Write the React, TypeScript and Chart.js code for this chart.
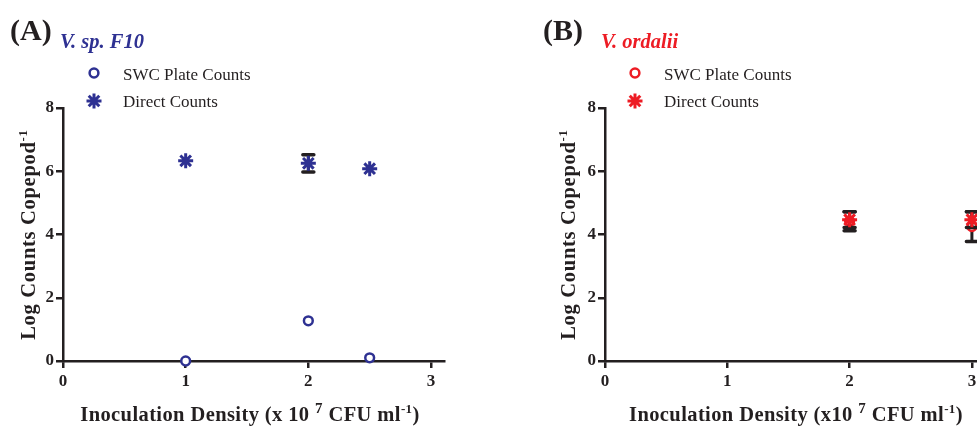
import React, { useEffect, useRef } from "react";
import { Chart, registerables } from "chart.js";

Chart.register(...registerables);

const BLUE = "#2E3192";
const RED = "#ED1C24";
const INK = "#231F20";
const SERIF = '"Liberation Serif", "Times New Roman", serif';

// axis ticks
const yTickValues = [0, 2, 4, 6, 8];
const xTickValues = [0, 1, 2, 3];
const legendLabels = ["SWC Plate Counts", "Direct Counts"];

// Panel A: V. sp. F10
const aDensity = [1, 2, 2.5];
const aPlate = [0, 1.27, 0.1];
const aPlateErr = [0, 0, 0];
const aDirect = [6.33, 6.25, 6.08];
const aDirectErr = [0, 0.27, 0];

// Panel B: V. ordalii
const bDensity = [2, 3];
const bPlate = [4.42, 4.25];
const bPlateErr = [0.3, 0.47];
const bDirect = [4.47, 4.47];
const bDirectErr = [0.25, 0.25];

type Part = { t: string; sup?: number };

type PanelCfg = {
  left: number;
  width: number;
  areaLeft: number;
  unit: number;
  xMax: number;
  label: string;
  labelX: number;
  species: string;
  speciesX: number;
  color: string;
  legendX: number;
  textX: number;
  yTitleX: number;
  xTitleX: number;
  xTitle: Part[];
  density: number[];
  plate: number[];
  plateErr: number[];
  direct: number[];
  directErr: number[];
};

const AREA_TOP = 108;
const AREA_BOTTOM = 361;
const H = 427;
const Y_W = 50;
const X_H = 30;
const TITLE_SIZE = 20.5;

function drawRich(
  ctx: CanvasRenderingContext2D,
  parts: Part[],
  cx: number,
  y: number,
  size: number,
  spacing: number
) {
  const font = (s: number) => `bold ${s}px ${SERIF}`;
  (ctx as any).letterSpacing = `${spacing}px`;
  let total = 0;
  const widths = parts.map((p) => {
    ctx.font = font(p.sup ? p.sup : size);
    const w = ctx.measureText(p.t).width;
    total += w;
    return w;
  });
  let x = cx - total / 2;
  ctx.textAlign = "left";
  ctx.textBaseline = "alphabetic";
  parts.forEach((p, i) => {
    ctx.font = font(p.sup ? p.sup : size);
    ctx.fillText(p.t, x, p.sup ? y - size * 0.38 : y);
    x += widths[i];
  });
  (ctx as any).letterSpacing = "0px";
}

function makePlugin(cfg: PanelCfg) {
  return {
    id: "decor",
    beforeDatasetDraw(chart: any, args: any) {
      const ds = chart.data.datasets[args.index];
      const errs: number[] = ds.errors;
      if (!errs) return;
      const ctx = chart.ctx;
      const xs = chart.scales.x;
      const ys = chart.scales.y;
      ctx.save();
      ctx.strokeStyle = INK;
      ds.data.forEach((p: any, i: number) => {
        const e = errs[i];
        if (!e) return;
        const px = xs.getPixelForValue(p.x);
        const t = ys.getPixelForValue(p.y + e);
        const b = ys.getPixelForValue(p.y - e);
        ctx.lineWidth = 3;
        ctx.beginPath();
        ctx.moveTo(px, t);
        ctx.lineTo(px, b);
        ctx.stroke();
        ctx.lineWidth = 3.5;
        ctx.lineCap = "round";
        ctx.beginPath();
        ctx.moveTo(px - 5.5, t);
        ctx.lineTo(px + 5.5, t);
        ctx.moveTo(px - 5.5, b);
        ctx.lineTo(px + 5.5, b);
        ctx.stroke();
        ctx.lineCap = "butt";
      });
      ctx.restore();
    },
    afterDraw(chart: any) {
      const ctx: CanvasRenderingContext2D = chart.ctx;
      const off = cfg.left;
      ctx.save();
      ctx.fillStyle = INK;
      // panel label
      ctx.font = `bold 30px ${SERIF}`;
      ctx.textAlign = "left";
      ctx.textBaseline = "alphabetic";
      ctx.fillText(cfg.label, cfg.labelX - off, 40);
      // species
      ctx.fillStyle = cfg.color;
      ctx.font = `italic bold 20.5px ${SERIF}`;
      ctx.fillText(cfg.species, cfg.speciesX - off, 48);
      // legend
      const lx = cfg.legendX - off;
      ctx.strokeStyle = cfg.color;
      ctx.fillStyle = "#ffffff";
      ctx.lineWidth = 2.5;
      ctx.beginPath();
      ctx.arc(lx, 73, 4.4, 0, Math.PI * 2);
      ctx.fill();
      ctx.stroke();
      ctx.lineWidth = 3;
      ctx.beginPath();
      const r = 7.5;
      for (let k = 0; k < 4; k++) {
        const a = (k * Math.PI) / 4;
        ctx.moveTo(lx - r * Math.cos(a), 101 - r * Math.sin(a));
        ctx.lineTo(lx + r * Math.cos(a), 101 + r * Math.sin(a));
      }
      ctx.stroke();
      ctx.fillStyle = INK;
      ctx.font = `17px ${SERIF}`;
      ctx.fillText(legendLabels[0], cfg.textX - off, 80);
      ctx.fillText(legendLabels[1], cfg.textX - off, 107);
      // x title
      ctx.fillStyle = INK;
      drawRich(ctx, cfg.xTitle, cfg.xTitleX - off, 421, TITLE_SIZE, 0.4);
      // y title
      ctx.translate(cfg.yTitleX - off, (AREA_TOP + AREA_BOTTOM) / 2);
      ctx.rotate(-Math.PI / 2);
      drawRich(ctx, [{ t: "Log Counts Copepod" }, { t: "-1", sup: 13 }], 0, 0, TITLE_SIZE, 0.7);
      ctx.restore();
    },
  };
}

function Panel({ cfg }: { cfg: PanelCfg }) {
  const ref = useRef<HTMLCanvasElement>(null);
  useEffect(() => {
    if (!ref.current) return;
    const right = cfg.areaLeft + cfg.xMax * cfg.unit;
    const tickFont = { family: SERIF, size: 17, weight: "bold" as const };
    const chart = new Chart(ref.current, {
      type: "scatter",
      data: {
        datasets: [
          {
            label: legendLabels[1],
            data: cfg.density.map((x, i) => ({ x, y: cfg.direct[i] })),
            errors: cfg.directErr,
            pointStyle: "star",
            pointRadius: 7.5,
            pointBorderWidth: 3,
            borderColor: cfg.color,
            backgroundColor: cfg.color,
            order: 0,
            clip: false,
          } as any,
          {
            label: legendLabels[0],
            data: cfg.density.map((x, i) => ({ x, y: cfg.plate[i] })),
            errors: cfg.plateErr,
            pointStyle: "circle",
            pointRadius: 4.4,
            pointBorderWidth: 2.5,
            borderColor: cfg.color,
            backgroundColor: "#ffffff",
            order: 1,
            clip: false,
          } as any,
        ],
      },
      options: {
        animation: false,
        responsive: false,
        maintainAspectRatio: false,
        devicePixelRatio: 1,
        layout: {
          autoPadding: false,
          padding: {
            left: cfg.areaLeft - Y_W,
            top: AREA_TOP,
            right: cfg.width - right,
            bottom: H - AREA_BOTTOM - X_H,
          },
        },
        plugins: { legend: { display: false }, tooltip: { enabled: false } },
        scales: {
          x: {
            type: "linear",
            min: 0,
            max: cfg.xMax,
            afterFit: (s: any) => {
              s.height = X_H;
            },
            afterBuildTicks: (s: any) => {
              s.ticks = xTickValues.map((v) => ({ value: v }));
            },
            ticks: { font: tickFont, color: INK, padding: 3, maxRotation: 0, autoSkip: false },
            grid: { drawOnChartArea: false, drawTicks: true, tickLength: 7, lineWidth: 2.5, color: INK },
            border: { display: true, color: INK, width: 2.5 },
          },
          y: {
            type: "linear",
            min: 0,
            max: 8,
            afterFit: (s: any) => {
              s.width = Y_W;
            },
            afterBuildTicks: (s: any) => {
              s.ticks = yTickValues.map((v) => ({ value: v }));
            },
            ticks: { font: tickFont, color: INK, padding: 2, autoSkip: false },
            grid: { drawOnChartArea: false, drawTicks: true, tickLength: 7, lineWidth: 2.5, color: INK },
            border: { display: true, color: INK, width: 2.5 },
          },
        },
      } as any,
      plugins: [makePlugin(cfg)],
    });
    return () => chart.destroy();
  }, [cfg]);
  return (
    <canvas
      ref={ref}
      width={cfg.width}
      height={H}
      style={{ position: "absolute", left: cfg.left, top: 0, width: cfg.width, height: H }}
    />
  );
}

const panelA: PanelCfg = {
  left: 0,
  width: 488,
  areaLeft: 63,
  unit: 122.67,
  xMax: 3.11,
  label: "(A)",
  labelX: 10,
  species: "V. sp. F10",
  speciesX: 60,
  color: BLUE,
  legendX: 94,
  textX: 123,
  yTitleX: 35,
  xTitleX: 250,
  xTitle: [
    { t: "Inoculation Density (x 10 " },
    { t: "7", sup: 15 },
    { t: " CFU ml" },
    { t: "-1", sup: 13 },
    { t: ")" },
  ],
  density: aDensity,
  plate: aPlate,
  plateErr: aPlateErr,
  direct: aDirect,
  directErr: aDirectErr,
};

const panelB: PanelCfg = {
  left: 488,
  width: 530,
  areaLeft: 117,
  unit: 122.3,
  xMax: 3.12,
  label: "(B)",
  labelX: 543,
  species: "V. ordalii",
  speciesX: 601,
  color: RED,
  legendX: 635,
  textX: 664,
  yTitleX: 575,
  xTitleX: 796,
  xTitle: [
    { t: "Inoculation Density (x10 " },
    { t: "7", sup: 15 },
    { t: " CFU ml" },
    { t: "-1", sup: 13 },
    { t: ")" },
  ],
  density: bDensity,
  plate: bPlate,
  plateErr: bPlateErr,
  direct: bDirect,
  directErr: bDirectErr,
};

export default function App() {
  return (
    <div
      style={{
        position: "fixed",
        left: 0,
        top: 0,
        width: 977,
        height: 427,
        overflow: "hidden",
        background: "#ffffff",
      }}
    >
      <Panel cfg={panelA} />
      <Panel cfg={panelB} />
    </div>
  );
}
